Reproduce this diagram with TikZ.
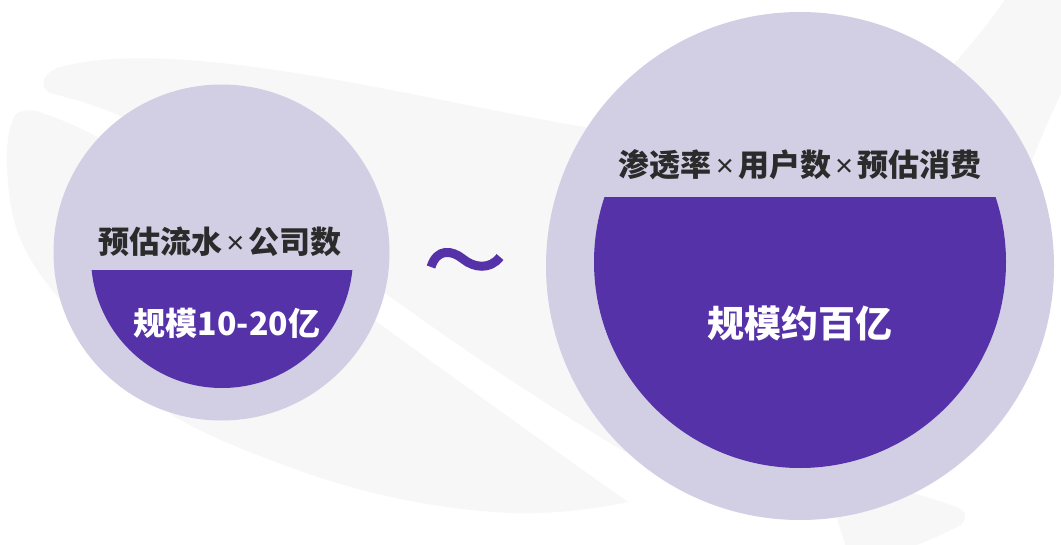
\documentclass[tikz,border=0pt]{standalone}
\usepackage{fontspec}
\newfontfamily\cjk{Noto Sans CJK SC}
\newfontfamily\latin{Liberation Sans}
\newcommand{\mul}{\hspace{4pt}{\latin\mdseries ×}\hspace{4pt}}
\definecolor{bggray}{HTML}{F7F7F7}
\definecolor{lav}{HTML}{D2CFE4}
\definecolor{deep}{HTML}{5632A8}
\definecolor{ink}{HTML}{2B2B2B}
\tikzset{
  swoosh/.style={fill=bggray, draw=none},
  outer/.style={circle, fill=lav, draw=none, inner sep=0pt},
  title/.style={text=ink, inner sep=0pt, font=\cjk\bfseries\fontsize{31}{36}\selectfont},
  value/.style={text=white, inner sep=0pt},
}
\begin{document}
\begin{tikzpicture}[x=1pt,y=-1pt]
\useasboundingbox (0,0) rectangle (1061,544);
\fill[white] (0,0) rectangle (1061,544);
\begin{scope}
\clip (0,0) rectangle (1061,544);
% upper swoosh
\fill[swoosh] (50,93) .. controls (40,88) and (40,74) .. (60,67)
 .. controls (100,57) and (150,55) .. (230,64)
 .. controls (350,78) and (470,108) .. (590,128)
 -- (800,150) -- (955,63)
 .. controls (975,40) and (995,15) .. (1008,-5)
 -- (1070,-5) -- (1070,75)
 .. controls (1055,105) and (1042,135) .. (1030,165)
 -- (800,350) -- (625,452)
 .. controls (530,395) and (450,340) .. (385,293)
 -- (123,117)
 .. controls (100,107) and (75,99) .. (50,93) -- cycle;
% lower swoosh
\fill[swoosh] (20,112) .. controls (28,109) and (35,110) .. (45,114)
 .. controls (65,121) and (85,130) .. (97,137)
 -- (377,322)
 .. controls (450,375) and (540,440) .. (628,502)
 .. controls (590,510) and (550,514) .. (513,513)
 .. controls (440,510) and (370,495) .. (306,473)
 .. controls (250,453) and (205,435) .. (172,415)
 -- (58,297)
 .. controls (35,270) and (15,240) .. (10,200)
 .. controls (6,170) and (5,140) .. (12,122)
 .. controls (14,115) and (17,113) .. (20,112) -- cycle;
% lower right blade
\fill[swoosh] (860,470) -- (910,492)
 .. controls (935,500) and (955,505) .. (962,510)
 .. controls (968,515) and (965,523) .. (957,527)
 .. controls (945,533) and (930,540) .. (917,545)
 -- (850,560) -- (800,400) -- cycle;
\end{scope}
% circles
\node[outer, minimum size=336pt] (lc) at (221.5,252.5) {};
\node[outer, minimum size=508pt] (rc) at (800,266) {};
\begin{scope}
\clip (0,270) rectangle (1061,544);
\fill[deep] (222,257) circle (131);
\end{scope}
\begin{scope}
\clip (0,197) rectangle (1061,544);
\fill[deep] (800,262) circle (206);
\end{scope}
% texts
\node[title] (lt) at (220,242) {预估流水\mul 公司数};
\node[value, font=\cjk\bfseries\fontsize{32}{40}\selectfont] (lv) at (227,323) {规模10-20亿};
\node[title] (rt) at (800,165) {渗透率\mul 用户数\mul 预估消费};
\node[value, font=\cjk\bfseries\fontsize{37}{44}\selectfont] (rv) at (800,323) {规模约百亿};
% tilde
\draw[deep, line width=9pt] (431,267) .. controls (437,248) and (452,250) .. (463,259)
 .. controls (474,268) and (490,270) .. (500,257);
\end{tikzpicture}
\end{document}
